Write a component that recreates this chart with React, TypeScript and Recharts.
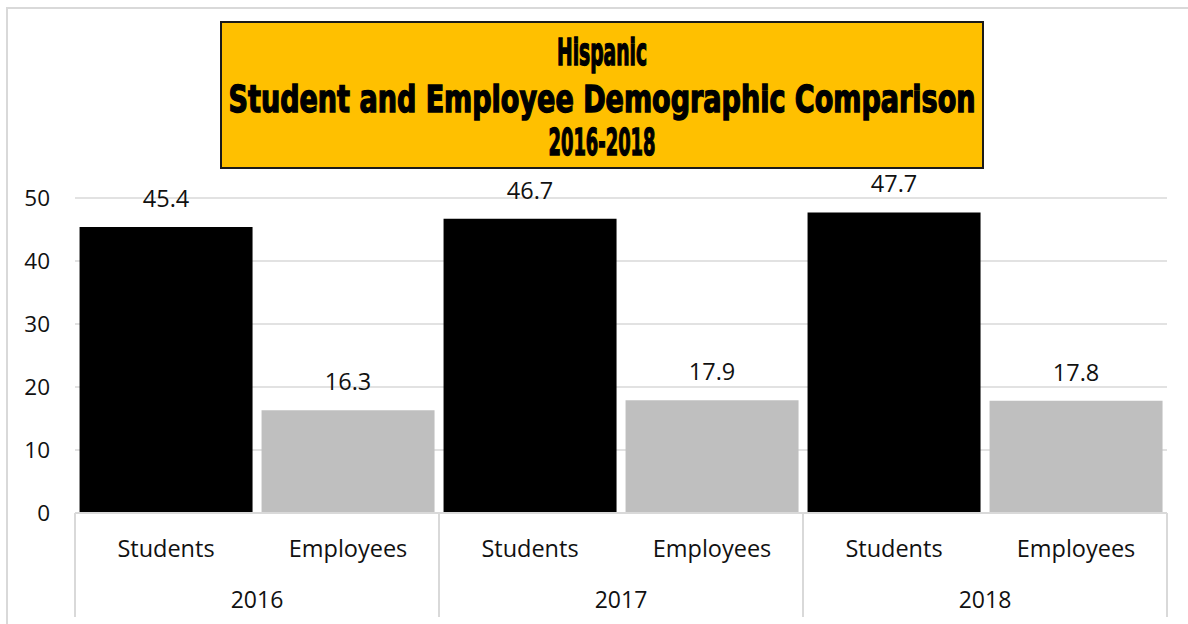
import React from 'react';
import { BarChart, Bar, Cell, XAxis, YAxis, CartesianGrid, LabelList } from 'recharts';

const roles = ['Students', 'Employees', 'Students', 'Employees', 'Students', 'Employees'];
const years = ['2016', '2016', '2017', '2017', '2018', '2018'];
const values = [45.4, 16.3, 46.7, 17.9, 47.7, 17.8];
const yTicks = [0, 10, 20, 30, 40, 50];
const titleLines = ['Hispanic', 'Student and Employee Demographic Comparison', '2016-2018'];

const ROLE_COLORS: Record<string, string> = {
  Students: '#000000',
  Employees: '#bfbfbf',
};

const FONT = '"Open Sans", "Noto Sans", sans-serif';
const TEXT = '#111111';
const GRID = '#d9d9d9';

const data = roles.map((role, i) => ({
  key: `${years[i]}-${role}`,
  role,
  year: years[i],
  value: values[i],
}));

const RoleTick = ({ x, y, payload }: any) => {
  const role = payload.value.split('-')[1];
  return (
    <text x={x} y={y + 44} textAnchor="middle" fontSize={23.5} fontFamily={FONT} fill={TEXT}>
      {role}
    </text>
  );
};

const YearTick = ({ x, y, payload }: any) => {
  const half = payload.offset || 182;
  return (
    <g>
      <line x1={x - half} x2={x - half} y1={y - 60} y2={y + 44} stroke={GRID} strokeWidth={2} />
      <line x1={x + half} x2={x + half} y1={y - 60} y2={y + 44} stroke={GRID} strokeWidth={2} />
      <text x={x} y={y + 35} textAnchor="middle" fontSize={23} fontFamily={FONT} fill={TEXT}>
        {payload.value}
      </text>
    </g>
  );
};

const Title = () => {
  const baselines = [65, 112, 155];
  const widths = [90, 747, 107];
  return (
    <svg
      width={766}
      height={150}
      style={{ position: 'absolute', left: 219, top: 20, overflow: 'visible' }}
    >
      <rect x={2} y={2} width={762} height={146} fill="#ffc000" stroke="#1a1a1a" strokeWidth={2} />
      {titleLines.map((line, i) => (
        <text
          key={line}
          x={383}
          y={baselines[i] - 20}
          textAnchor="middle"
          fontSize={38}
          fontWeight="bold"
          fontFamily='"Liberation Sans Narrow", "DejaVu Sans Condensed", sans-serif'
          textLength={widths[i]}
          lengthAdjust="spacingAndGlyphs"
          fill="#000"
          stroke="#000"
          strokeWidth={1.4}
        >
          {line}
        </text>
      ))}
    </svg>
  );
};

export default function App() {
  return (
    <div style={{ position: 'fixed', left: 0, top: 0, width: 1188, height: 624, background: '#fff' }}>
      <div
        style={{
          position: 'absolute',
          left: 6,
          top: 7,
          width: 1200,
          height: 640,
          borderTop: `2px solid ${GRID}`,
          borderLeft: `2px solid ${GRID}`,
        }}
      />
      <div style={{ position: 'absolute', left: 0, top: 0 }}>
        <BarChart
          width={1188}
          height={624}
          data={data}
          margin={{ top: 198, right: 21, left: 0, bottom: 0 }}
          barCategoryGap="2.5%"
        >
          <CartesianGrid xAxisId="role" vertical={false} stroke={GRID} strokeWidth={1.5} />
          <XAxis
            xAxisId="role"
            dataKey="key"
            height={60}
            tickLine={false}
            tickSize={0}
            tickMargin={0}
            interval={0}
            axisLine={{ stroke: GRID, strokeWidth: 2 }}
            tick={<RoleTick />}
          />
          <XAxis
            xAxisId="year"
            dataKey="year"
            allowDuplicatedCategory={false}
            height={51}
            tickLine={false}
            tickSize={0}
            tickMargin={0}
            interval={0}
            axisLine={false}
            tick={<YearTick />}
          />
          <YAxis
            width={75}
            domain={[0, 50]}
            ticks={yTicks}
            interval={0}
            axisLine={false}
            tickLine={false}
            tickMargin={19}
            tick={{ fontSize: 22.5, fontFamily: FONT, fill: TEXT }}
          />
          <Bar xAxisId="role" dataKey="value" isAnimationActive={false}>
            {data.map((d) => (
              <Cell key={d.key} fill={ROLE_COLORS[d.role]} />
            ))}
            <LabelList
              dataKey="value"
              position="top"
              offset={20}
              fontSize={23.5}
              fontFamily={FONT}
              fill={TEXT}
            />
          </Bar>
        </BarChart>
      </div>
      <Title />
    </div>
  );
}
